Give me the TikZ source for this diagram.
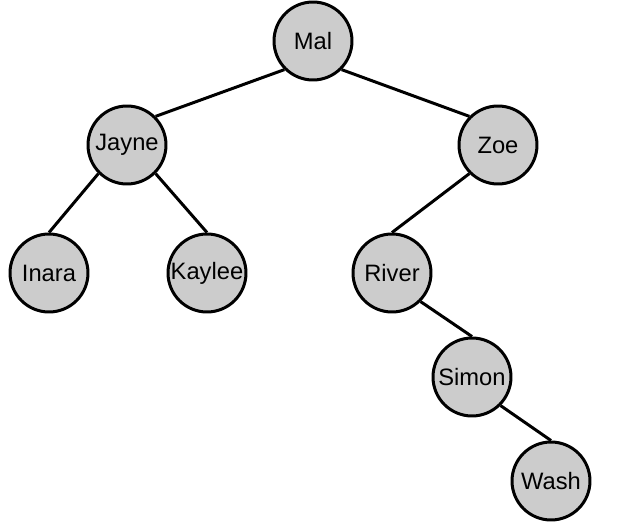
\documentclass[tikz,border=0pt]{standalone}
\usepackage{fontspec}
\setmainfont{Liberation Sans}
\usepackage{tikz}
\usetikzlibrary{positioning}

\tikzset{crew/.style={circle, draw, line width=1.7pt, fill=black!20, minimum size=1.56cm, inner sep=0pt, font=\fontsize{13.5}{16}\selectfont}}

\begin{document}
\begin{tikzpicture}[x=0.02cm, y=-0.02cm]
\useasboundingbox (0,0) rectangle (620,530);
\node[crew] (mal) at (313,41) {Mal};
\node[crew] (jayne) at (127,145) {Jayne}; \node[crew] (zoe) at (498,145) {Zoe};
\node[crew] (inara) at (49,273) {Inara}; \node[crew] (kaylee) at (207,273) {Kaylee};
\node[crew] (river) at (392,273) {River};
\node[crew] (simon) at (472,377) {Simon};
\node[crew] (wash) at (551,481) {Wash};
\foreach \a/\b in {mal.south west/jayne.north east,mal.south east/zoe.north west,jayne.south west/inara.north,jayne.south east/kaylee.north,zoe.south west/river.north,river.south east/simon.north,simon.south east/wash.north}
  \draw[line width=1.7pt] (\a) -- (\b);
\end{tikzpicture}
\end{document}
